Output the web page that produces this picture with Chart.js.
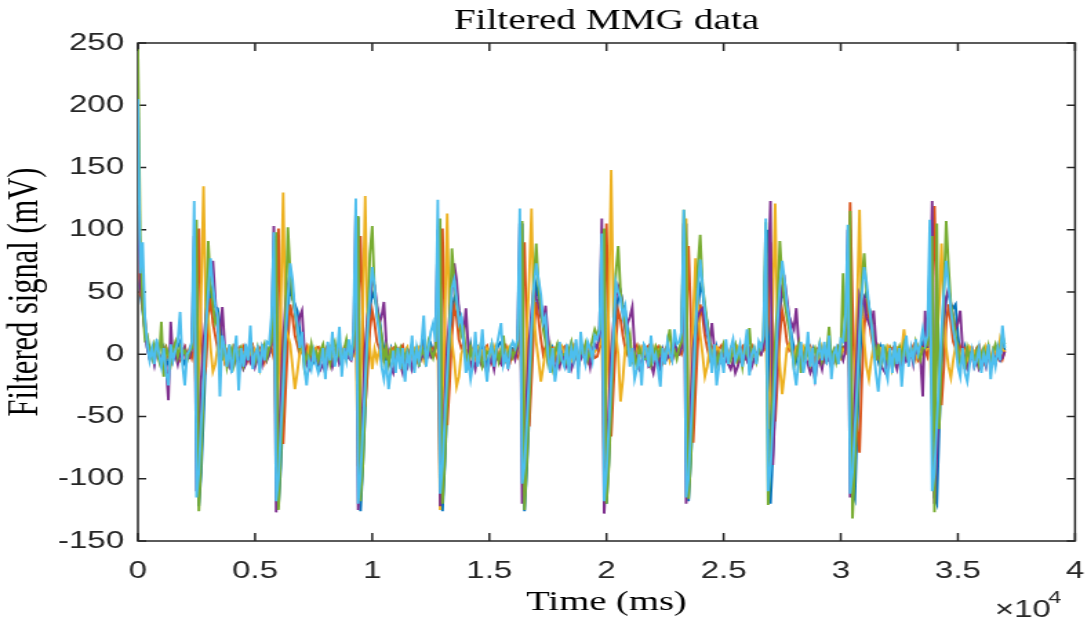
<!DOCTYPE html>
<html>
<head>
<meta charset="utf-8">
<script src="https://cdn.jsdelivr.net/npm/chart.js@4.4.1/dist/chart.umd.min.js"></script>
<style>
  html, body { margin: 0; padding: 0; background: #ffffff; overflow: hidden; }
  #wrap { width: 791px; height: 622px; transform: scaleX(1.3793); transform-origin: 0 0; }
  canvas { display: block; }
</style>
</head>
<body>
<div id="wrap"><canvas id="c" width="791" height="622"></canvas></div>
<script>
// ---- data (mV), sampled every SAMPLE_MS milliseconds ----
const SAMPLE_MS = 100;
const seriesNames = ['Channel 1', 'Channel 2', 'Channel 3', 'Channel 4', 'Channel 5', 'Channel 6'];
const seriesColors = ['#0072BD', '#D95319', '#EDB120', '#7E2F8E', '#77AC30', '#4DBEEE'];

const ch1 = [
  60, 50, 35, 20, 5, -3, 4, -6, 8, 0, -8, 3, -10, -5, 5, -3, 2, 6, 10, -4, -8, 2,
  3, 6, 60, 100, -122, -95, -50, 0, 30, 50, 55, 38, 37, 25, 10, 0, -8, 5, -10, 0, -5,
  -5, 3, -6, 5, -2, 8, -6, 0, 4, -8, 5, -3, 6,
  0, 5, 50, 95, -122, -90, -45, 5, 35, 55, 45, 40, 35, 20, 5, -5, 0, -8, 3, -5, 2,
  -8, -3, 4, -10, 5, -2, 8, -5, 0, 10, -6, 3, -2, 6,
  5, 8, 70, 110, -126, -90, -45, 0, 35, 50, 45, 38, 30, 15, 5, -8, 0, 5, -6, 0, 3,
  -6, 3, -10, 0, -4, 8, -8, 3, -2, 5, 12, -5, 3, 8,
  2, 5, 55, 100, -126, -88, -40, 5, 30, 45, 50, 35, 30, 10, 0, -5, 8, -3, 0, 5, -2,
  8, -3, -10, 0, 5, -5, 3, 8, 10, -4, 0, -6, 3, 5,
  4, 3, 60, 105, -126, -92, -48, 0, 35, 55, 45, 40, 28, 15, 3, -6, 5, 0, -8, 2, 4,
  -5, 4, -8, 3, -2, 6, -10, 8, 0, -4, 5, 3, -2, 8,
  6, 10, 80, 100, -120, -85, -40, 5, 30, 45, 50, 40, 35, 20, 5, -3, 0, -8, 4, 0, -3,
  3, -5, 8, -2, 0, -6, -12, 3, -4, 5, 0, -3, 10, 4,
  3, 5, 90, 105, -118, -85, -45, 0, 35, 55, 50, 35, 25, 10, 0, -5, 5, -8, 0, 3, -4,
  -4, 3, 6, -2, 0, 4, -5, 3, 10, -8, 0, 3, -4, 5,
  2, 6, 85, 100, -120, -80, -40, 5, 35, 50, 45, 35, 30, 15, 5, -5, 3, -6, 0, 4, 2,
  -5, 3, -10, 0, 4, -3, 5, -4, 8, -10, 0, 3, -4, 6,
  5, 8, 80, 100, -110, -116, -60, -10, 25, 45, 50, 38, 30, 12, 3, -5, 6, 0, -8, 3, 0,
  -8, 5, -4, 3, -12, 0, 8, -5, 3, -3, 6, 0, 4, 10,
  4, 5, 70, 105, -115, -120, -60, -10, 25, 45, 50, 40, 37, 40, 15, 0, -5, 5, -6, 0, 3,
  -5, -3, 3, -8, 0, -4, 4, -10, 0, -5, 3, -3, 10, 3
];

const ch2 = [
  110, 48, 45, 28, 10, 3, -2, 5, 7, 0, -5, 3, 6, -2, -6, 4, 7, 1, -4, 3, 6, -3,
  4, -3, 5, 40, 101, 10, -20, -10, 30, 45, 25, 15, 5, -5, 3, -6, 0, 5, -3, 6, 2,
  5, -3, 6, 2, -5, 3, 7, 0, -4, 5, 2, -6, 4,
  2, 5, -3, 30, 101, 20, -72, -30, 10, 40, 30, 15, 8, 0, 5, -3, 6, 0, -5, 3, 5,
  6, 0, -5, 4, 7, -2, -6, 3, 6, 0, -5, 5, 2, -3,
  -3, 4, 6, 35, 95, 25, -42, -15, 20, 35, 25, 10, 5, -5, 2, 6, -4, 3, 5, -2, 4,
  4, 7, -2, -6, 3, 6, 0, -5, 4, 7, -3, -5, 5, 2,
  5, 0, -4, 25, 101, 20, -57, -25, 15, 38, 30, 12, 5, 8, -3, 4, 6, -2, 3, 5, -4,
  -4, 5, 7, 0, -6, 3, 6, -2, -5, 4, 7, 1, -5, 3,
  3, -2, 4, 40, 90, 10, -58, -20, 20, 42, 28, 12, 0, 6, -5, 3, 5, -3, 6, 0, 4,
  6, -3, -6, 4, 7, 0, -5, 3, 6, -2, -6, 5, 4, -3,
  -2, 5, 8, 30, 105, 15, -66, -25, 10, 35, 28, 15, 5, 0, 6, -4, 3, 7, -2, 5, 0,
  5, 7, -2, -5, 3, 6, 0, -6, 4, 7, -3, -4, 5, 2,
  4, 0, 5, 20, 87, 30, -71, -30, 10, 40, 30, 15, 5, -3, 6, 2, -5, 4, 7, 0, 3,
  -5, 4, 7, 1, -6, 3, 6, -3, -5, 5, 7, 0, -4, 3,
  0, 5, 3, 25, 90, 20, -54, -20, 15, 35, 25, 10, 3, 6, -4, 5, 0, 6, -3, 4, 2,
  6, -2, -6, 4, 7, 0, -5, 3, 6, -3, -6, 5, 4, -2,
  5, 2, 30, 122, 40, -20, -60, -79, -20, 20, 45, 30, 15, 5, 0, 6, -3, 5, 2, -4, 6,
  4, 7, -3, -5, 5, 6, 0, -6, 3, 7, -2, -5, 4, 6,
  3, -2, 10, 50, 119, 30, -10, -41, -10, 25, 40, 25, 10, 5, -3, 6, 0, 4, -5, 3, 5,
  -4, 5, 7, 0, -6, 4, 6, -3, -5, 5, 7, 1, -4, 3
];

const ch3 = [
  150, 60, 38, 25, 8, 2, -3, 4, 6, -2, -5, 3, 5, 0, -4, 2, 6, -1, -3, 4, 5, -2,
  3, 5, 15, -40, -10, 50, 135, 25, 30, 5, -14, -8, 5, 10, 2, -5, 4, 6, -3, 2, 5,
  2, 5, -3, 0, 4, -2, 6, 3, -4, 1, 5, -3, 2,
  2, 6, 10, -60, -20, 40, 130, 20, 15, 8, -10, -28, -15, 0, 5, 3, -4, 6, 2, -3, 4,
  -3, 4, 2, -5, 3, 6, -2, 0, 5, -3, 2, 4, -4, 3,
  4, 0, 12, -90, -30, 35, 127, 20, 5, -12, 4, -5, 3, 6, -2, 5, 0, 4, -3, 6, 2,
  5, -2, 3, 6, -4, 0, 4, -3, 5, 2, -5, 3, 6, -1,
  3, 5, 10, -125, -40, 30, 113, 25, 10, -5, -26, -18, 0, 6, 3, -4, 5, 2, -3, 6, 4,
  3, -4, 5, 2, -3, 6, 0, -5, 4, 3, -2, 5, 1, -3,
  5, 2, 15, -30, -92, 20, 60, 117, 30, 10, -5, -22, -10, 3, 6, -2, 4, 5, -3, 2, 6,
  -2, 5, 3, -4, 6, 0, -3, 4, 5, -2, 3, -5, 4, 2,
  4, 8, 12, -80, -25, 40, 148, 30, 15, 0, -38, -20, 5, 8, 2, -4, 6, 3, -2, 5, 0,
  4, -3, 2, 6, -4, 3, 5, -2, 0, 4, -5, 3, 6, -1,
  3, 5, 20, 109, -100, -40, 30, 77, 40, 15, 0, -18, -10, 5, 3, -2, 6, 4, -3, 5, 2,
  -3, 5, 2, -4, 6, 3, -2, 4, 0, -5, 3, 5, -3, 2,
  2, 6, 15, -60, -20, 40, 121, 20, -10, -32, -15, 5, 8, 2, -4, 5, 3, -3, 6, 2, 4,
  5, -2, 4, 3, -5, 6, 0, -3, 5, 2, -4, 3, 6, -2,
  4, 3, 15, -30, -94, -20, 40, 116, 30, 10, -10, -20, -5, 6, 3, -2, 5, 4, -3, 6, 2,
  -4, 3, 5, -2, 4, 20, 3, -3, 5, 2, -4, 6, 0, 3,
  3, 5, 10, -50, -20, 10, 40, 89, 30, 5, -10, -19, -5, 6, 3, -3, 5, 2, -4, 6, 3,
  3, -5, 4, 2, -3, 6, 0, -4, 5, 3, -2, 12, 4, 2
];

const ch4 = [
  120, 55, 40, 18, 5, -3, 2, -8, 5, 0, -5, 3, -10, -37, 26, -5, 0, -8, 2, -4, 5, -2,
  -3, 5, 95, -110, -70, -20, 10, 30, 50, 62, 75, 45, 20, 15, 38, 8, -5, -10, -3, -8, 0,
  -10, -5, -12, -8, 0, -6, 2, -10, -4, 0, -8, 3, -5,
  0, 8, 103, -127, -80, -30, 10, 40, 55, 65, 50, 35, 20, 30, 35, 5, -8, -12, -5, 0, -6,
  -5, -12, -8, -15, -5, 0, -10, -3, 2, -8, -5, 0, 5, -3,
  -5, 3, 115, -125, -90, -40, 5, 30, 45, 60, 55, 40, 25, 30, 42, 10, -5, -10, -15, -5, 2,
  -8, -15, -5, -10, 0, -12, -6, 2, -8, -3, 0, -5, 3, -2,
  2, 6, 100, -122, -85, -35, 5, 30, 50, 73, 60, 35, 20, 15, 37, 5, -10, -5, -12, 0, -6,
  -10, -6, -15, -8, -3, -12, 0, -5, -8, 2, -4, -10, 0, 3,
  -4, 5, 105, -120, -80, -30, 10, 35, 53, 45, 40, 30, 25, 39, 15, 0, -8, -12, -4, -10, 0,
  -5, -10, -3, -12, -6, 0, -8, -4, 3, -6, 0, -10, 5, 8,
  5, 18, 109, -128, -90, -40, 0, 25, 45, 55, 50, 35, 20, 25, 30, 38, 5, -8, -12, -5, -2,
  -3, -10, -8, -15, -5, 0, -8, 2, -6, -3, 0, -5, 8, 2,
  0, 5, 105, -120, -85, -35, 5, 20, 30, 35, 37, 25, 15, 10, 25, 5, -5, -8, -3, 0, -5,
  -8, -12, -5, -15, -10, -3, -8, 0, -5, 2, -10, -4, 0, 3,
  0, 5, 20, 60, 123, -89, -40, 10, 40, 55, 60, 45, 30, 25, 20, 37, 10, -5, -10, -3, -8,
  -15, -10, -20, -8, -5, -12, 0, -6, -3, -10, 0, -5, 5, 0,
  -5, 3, 100, -115, -80, -35, 5, 47, 40, 45, 30, 25, 20, 35, 10, 0, -8, -12, -15, -5, 0,
  -8, -5, -12, -3, -10, 0, -6, -4, 2, -8, 5, 0, -3, -34,
  35, 5, 30, 123, -120, -80, -35, 5, 30, 45, 53, 40, 30, 20, 25, 35, 5, -8, -12, -5, 0,
  -10, -5, -12, -8, -3, -10, 0, -6, -4, -8, 0, -5, -3, 2
];

const ch5 = [
  245, 95, 40, 12, 15, 5, -3, 8, 2, -5, 26, -18, 5, 0, -8, 4, 10, -2, 6, 0, 3, -5,
  2, 5, 35, 108, -126, -85, -30, 20, 91, 55, 40, 25, 30, 10, -5, 8, -10, 0, 5, -8, 3,
  0, 5, -8, 3, -2, 10, 0, -6, 4, -10, 2, 8, -3,
  5, 10, 40, 98, -125, -80, -25, 30, 102, 65, 45, 35, 20, 5, 10, -10, 0, -5, 8, -3, 2,
  -5, 3, 8, -2, 0, -8, 5, 10, -3, 2, -6, 4, 12, 0,
  0, 8, 30, 111, -118, -90, -40, 15, 80, 103, 50, 35, 25, 15, -5, 5, -8, 2, -5, 6, 0,
  5, -8, 0, 3, -5, 8, -2, 4, -10, 6, 0, -4, 10, 3,
  -3, 5, 25, 109, -120, -85, -35, 20, 85, 60, 40, 30, 15, 20, 0, -8, 5, -5, 3, -4, 5,
  -10, -5, 2, 0, 8, -3, 5, -6, 2, 15, -4, 0, 6, -2,
  3, 8, 40, 107, -125, -88, -40, 10, 60, 89, 55, 35, 20, 10, -6, 5, -10, 2, 8, -5, 0,
  0, -6, 4, 10, -3, 2, -8, 5, 0, 8, -4, 3, 12, 20,
  15, 20, 35, 101, -120, -90, -42, 15, 65, 87, 50, 35, 25, 5, 15, -5, 0, -12, 5, 0, -4,
  -4, 3, -8, 0, 6, -2, 5, 0, -5, 8, 20, 0, 3, -4,
  5, 10, 116, 90, -116, -85, -30, 20, 70, 96, 55, 40, 25, 10, -10, 5, -8, 0, -5, 8, 2,
  0, -5, 3, 8, -4, 2, -10, 5, 0, 21, -3, 4, -6, 2,
  8, 12, 106, -121, -80, -30, 10, 40, 91, 60, 42, 30, 20, 5, -10, 0, 8, -15, -5, 5, 0,
  -8, 0, 5, -3, 8, -5, 2, 0, 22, -4, 3, -6, 5, 0,
  65, 10, 40, 115, -132, -90, -40, 10, 60, 81, 50, 38, 25, 10, -5, 8, -10, 0, 5, -5, 3,
  -12, -5, 0, 6, -3, 8, 0, -5, 4, -2, 10, 3, -4, 5,
  5, 8, 20, 95, -127, 105, -60, 0, 50, 107, 70, 40, 30, 15, 5, -8, 0, -12, 5, -3, 2,
  -5, 3, -8, 0, 5, -3, 6, -10, 2, 8, 0, 5, 15, 8
];

const ch6 = [
  205, 65, 90, 30, 8, -5, 5, -8, 12, 0, -10, 5, -15, -25, 8, -5, 3, 10, 34, -8, -25, 0,
  3, 10, 123, -115, -95, -55, -20, 20, 50, 77, 55, 40, 30, -34, 15, 5, -10, 8, -15, 0, 15,
  -29, 5, -10, 8, -5, 23, -12, 0, 5, -15, 8, -5, 10,
  8, 30, 98, -118, -100, -60, -25, 15, 45, 73, 60, 35, 25, 5, 18, -10, -25, -5, -12, 2, -8,
  -15, -8, 5, -20, 10, -5, 18, -10, 0, 22, -18, 5, -5, 12,
  -5, 20, 125, -120, -98, -60, -22, 18, 48, 70, 55, 30, 18, -10, -20, -5, -28, -12, 3, -15, 5,
  -12, 5, -22, 0, -8, 15, -15, 5, -5, 8, 31, -10, 5, 18,
  25, 10, 124, -112, -90, -50, -15, 20, 53, 60, 45, 25, 30, 10, -15, -5, -20, -8, 18, -10, 0,
  20, -5, -22, 0, 8, -10, 5, 15, 25, -8, 0, -12, 5, 10,
  5, 12, 117, -104, -90, -55, -18, 22, 55, 73, 60, 48, 25, 30, 0, -15, 5, -22, -8, 10, -5,
  -10, 8, -15, 5, -5, 12, -20, 18, 0, -8, 10, 5, -5, 15,
  12, 20, 97, -118, -95, -58, -20, 18, 58, 50, 45, 30, 38, 15, -10, 5, -20, -12, 0, -25, 8,
  5, -10, 15, -5, 0, -12, -26, 5, -8, 10, 0, -5, 20, 8,
  10, 18, 116, -115, -100, -60, -20, 20, 50, 76, 55, 35, 20, 5, -15, 8, -25, -10, 0, -15, 12,
  -8, 5, 12, -5, 0, 8, -10, 5, 20, -17, 0, 5, -8, 10,
  5, 15, 109, -110, -92, -55, -18, 25, 55, 75, 60, 40, 28, 10, -12, -25, -5, 10, -15, -5, 18,
  -10, 5, -24, 0, 8, -5, 10, -8, 15, -20, 0, 5, -8, 12,
  10, 30, 104, -112, -95, -60, -25, 15, 48, 70, 58, 40, 25, 5, -15, -30, -8, 8, -12, -20, 5,
  -15, 10, -8, 5, -26, 0, 15, -10, 5, -5, 12, 0, 8, 20,
  8, 15, 108, -110, -95, -55, -20, 20, 50, 75, 55, 35, 20, 10, -10, -18, 5, -15, -22, -8, 3,
  -10, -5, 5, -15, 0, -8, 8, -20, 0, -10, 5, -5, 23, 5
];

const seriesValues = [ch1, ch2, ch3, ch4, ch5, ch6];

const titleText = 'Filtered MMG data';
const xTitle = 'Time (ms)';
const yTitle = 'Filtered signal (mV)';
const xRange = [0, 40000];
const xStep = 5000;
const xExponent = 4;
const yRange = [-150, 250];
const yStep = 50;

// ---- chart ----
const AXIS = '#262626';
const SANS = '"Liberation Sans", Arial, sans-serif';
const SERIF = '"Liberation Serif", "Times New Roman", serif';

const datasets = seriesValues.map((vals, s) => ({
  label: seriesNames[s],
  data: vals.map((v, i) => ({ x: i * SAMPLE_MS, y: v })),
  borderColor: seriesColors[s],
  backgroundColor: seriesColors[s],
  borderWidth: 1.9,
  pointRadius: 0,
  tension: 0,
  fill: false,
  order: seriesValues.length - s
}));

const boxPlugin = {
  id: 'matlabBox',
  beforeDatasetsDraw(chart) {
    const { ctx, chartArea: a, scales } = chart;
    ctx.save();
    ctx.strokeStyle = AXIS;
    ctx.lineWidth = 1.5;
    ctx.strokeRect(a.left, a.top, a.right - a.left, a.bottom - a.top);
    ctx.beginPath();
    scales.x.ticks.forEach(t => {
      const px = scales.x.getPixelForValue(t.value);
      ctx.moveTo(px, a.bottom); ctx.lineTo(px, a.bottom - 8);
      ctx.moveTo(px, a.top); ctx.lineTo(px, a.top + 8);
    });
    scales.y.ticks.forEach(t => {
      const py = scales.y.getPixelForValue(t.value);
      ctx.moveTo(a.left, py); ctx.lineTo(a.left + 6, py);
      ctx.moveTo(a.right, py); ctx.lineTo(a.right - 6, py);
    });
    ctx.stroke();
    ctx.restore();
  },
  afterDraw(chart) {
    const { ctx, chartArea: a } = chart;
    ctx.save();
    ctx.fillStyle = AXIS;
    ctx.textBaseline = 'alphabetic';
    ctx.textAlign = 'right';
    ctx.font = '17px ' + SANS;
    ctx.fillText(String(xExponent), a.right - 10, 603);
    ctx.font = '24px ' + SANS;
    ctx.fillText('\u00d710', a.right - 17.5, 617);
    ctx.restore();
  }
};

new Chart(document.getElementById('c'), {
  type: 'line',
  data: { datasets },
  options: {
    responsive: false,
    animation: false,
    devicePixelRatio: 1,
    layout: { padding: { left: 0, right: 11.6, top: 0, bottom: 0 } },
    plugins: {
      legend: { display: false },
      tooltip: { enabled: false },
      title: {
        display: true,
        fullSize: false,
        text: titleText,
        color: '#000000',
        font: { family: SERIF, size: 28.5, weight: 'normal' },
        padding: { top: 4.8, bottom: 4 }
      }
    },
    scales: {
      x: {
        type: 'linear',
        min: xRange[0], max: xRange[1],
        grid: { display: false, drawTicks: false },
        border: { display: false },
        ticks: {
          stepSize: xStep,
          color: AXIS,
          font: { family: SANS, size: 24, lineHeight: 2.2 },
          padding: 4,
          maxRotation: 0,
          autoSkip: false,
          callback: v => String(v / Math.pow(10, xExponent))
        },
        title: {
          display: true,
          text: xTitle,
          color: '#000000',
          font: { family: SERIF, size: 28, weight: 'normal' },
          padding: { top: 0, bottom: 2.7 }
        },
        afterFit(scale) { scale.height = 81; }
      },
      y: {
        type: 'linear',
        min: yRange[0], max: yRange[1],
        grid: { display: false, drawTicks: false },
        border: { display: false },
        ticks: {
          stepSize: yStep,
          color: AXIS,
          font: { family: SANS, size: 24 },
          padding: 10
        },
        title: {
          display: true,
          text: yTitle,
          color: '#000000',
          font: { family: SERIF, size: 30.5, weight: 'normal' },
          padding: { top: 1, bottom: 0 }
        },
        afterFit(scale) { scale.width = 100; }
      }
    }
  },
  plugins: [boxPlugin]
});
</script>
</body>
</html>
